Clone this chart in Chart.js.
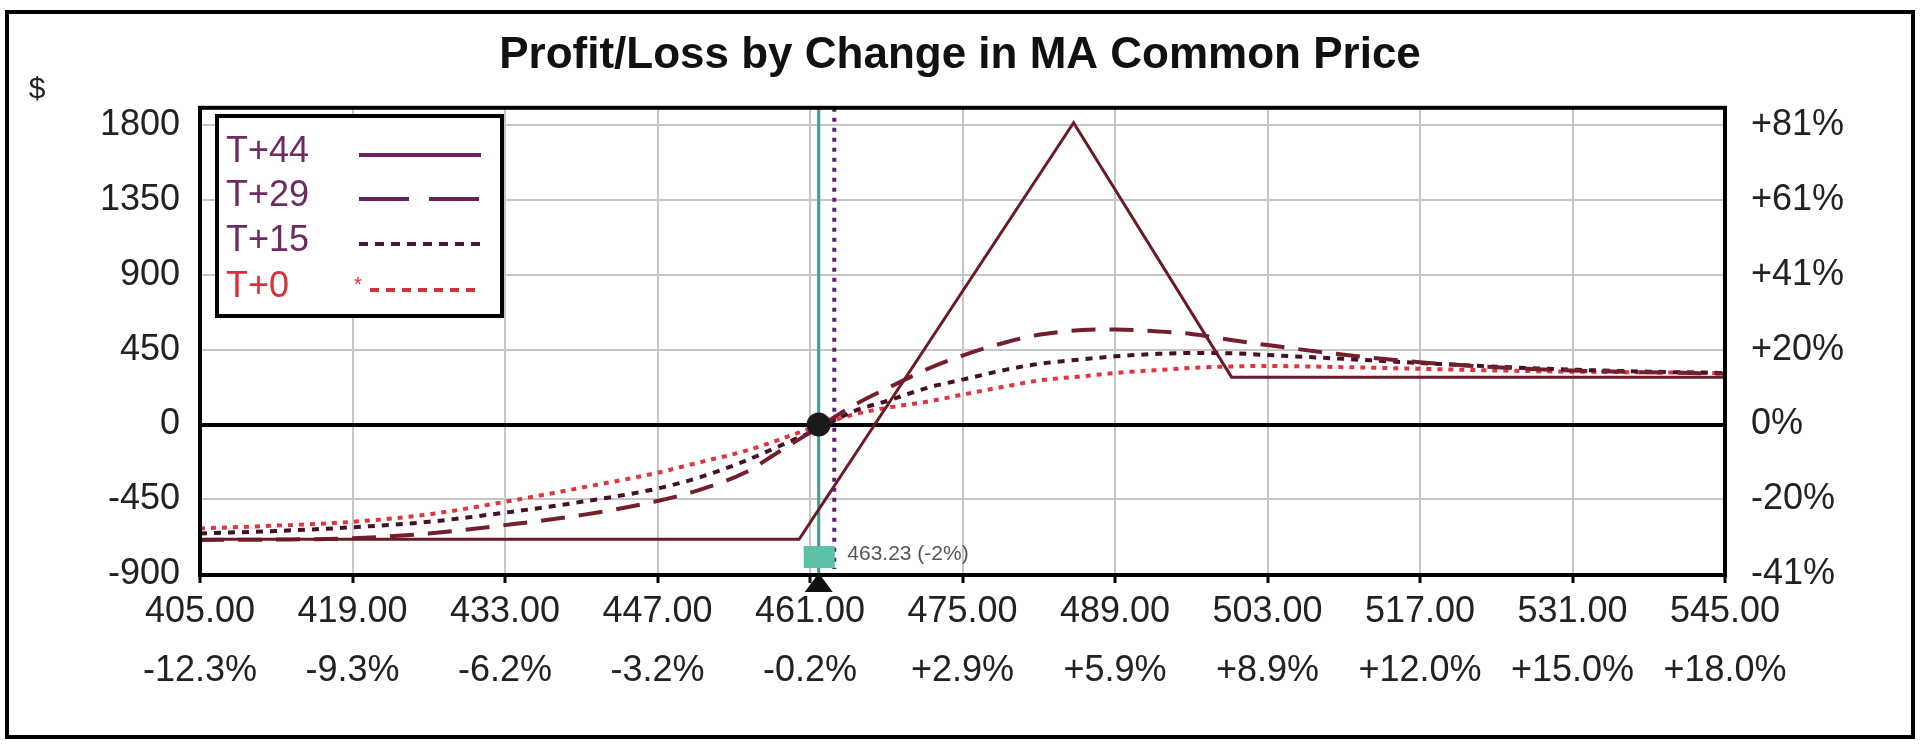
<!DOCTYPE html>
<html lang="en">
<head>
<meta charset="UTF-8" />
<title>Profit/Loss by Change in MA Common Price</title>
<style>
  body { margin: 0; background: #fff; }
  .chartBox { width: 1920px; height: 746px; position: relative; }
</style>
</head>
<body>
<div class="chartBox"><canvas id="plChart"></canvas></div>

<script src="https://cdn.jsdelivr.net/npm/chart.js"></script>
<script>
// price points for the smooth (pre-expiry) curves
const prices = [405, 412, 419, 426, 433, 440, 447, 451, 455, 458, 461.8, 465, 468, 472, 475,
                479, 482, 486, 489, 493, 496, 500, 503, 510, 517, 524, 531, 538, 545];
const t29PL = [-694, -692, -684, -655, -605, -545, -460, -390, -290, -170, -15, 115, 215, 340, 415,
               495, 540, 568, 572, 560, 545, 505, 478, 420, 375, 345, 325, 314, 306];
const t15PL = [-655, -640, -618, -585, -530, -465, -385, -315, -220, -135, -25, 80, 140, 225, 270,
               330, 365, 392, 410, 425, 430, 428, 418, 395, 370, 348, 330, 318, 310];
const t0PL = [-625, -608, -585, -540, -465, -380, -290, -225, -160, -95, -5, 60, 100, 140, 180,
              230, 265, 290, 310, 328, 340, 350, 352, 345, 335, 325, 318, 314, 310];

// expiration line is straight segments
const t44Prices = [405, 460, 485.2, 499.7, 545];
const t44PL = [-690, -690, 1815, 285, 285];

const xTickPrices = [405, 419, 433, 447, 461, 475, 489, 503, 517, 531, 545];
const xTickPcts = ["-12.3%", "-9.3%", "-6.2%", "-3.2%", "-0.2%", "+2.9%", "+5.9%",
                   "+8.9%", "+12.0%", "+15.0%", "+18.0%"];
const yTicks = [-900, -450, 0, 450, 900, 1350, 1800];
const yPctLabels = ["-41%", "-20%", "0%", "+20%", "+41%", "+61%", "+81%"];

const seriesNames = ["T+44", "T+29", "T+15", "T+0"];
const currentPrice = 461.8;
const markerPrice = 463.23;
const markerLabel = "463.23 (-2%)";

const FONT = "'Liberation Sans', Arial, Helvetica, sans-serif";

function pts(xs, ys) {
    return xs.map(function (p, i) { return { x: p, y: ys[i] }; });
}

// extra drawing: price markers, legend box, frames
const overlayPlugin = {
    id: "overlay",
    beforeDatasetsDraw(chart) {
        const ctx = chart.ctx;
        const a = chart.chartArea;
        const cx = chart.scales.x.getPixelForValue(currentPrice);
        const mx = chart.scales.x.getPixelForValue(markerPrice);
        ctx.save();
        ctx.strokeStyle = "#3f9e8c";
        ctx.lineWidth = 3;
        ctx.beginPath();
        ctx.moveTo(cx, a.top);
        ctx.lineTo(cx, a.bottom);
        ctx.stroke();

        ctx.strokeStyle = "#5b2274";
        ctx.lineWidth = 4;
        ctx.setLineDash([4, 6]);
        ctx.beginPath();
        ctx.moveTo(mx, a.top);
        ctx.lineTo(mx, a.bottom - 6);
        ctx.stroke();
        ctx.restore();
    },
    afterDraw(chart) {
        const ctx = chart.ctx;
        const a = chart.chartArea;
        const cx = chart.scales.x.getPixelForValue(currentPrice);
        const mx = chart.scales.x.getPixelForValue(markerPrice);
        const y0 = chart.scales.y.getPixelForValue(0);
        ctx.save();

        // plot frame
        ctx.strokeStyle = "#000";
        ctx.lineWidth = 4;
        ctx.strokeRect(a.left, a.top, a.right - a.left, a.bottom - a.top);

        // outer frame
        ctx.lineWidth = 4;
        ctx.strokeRect(7, 12, 1906, 725);

        // teal box, triangle, breakeven dot
        ctx.fillStyle = "#5cc0a6";
        ctx.fillRect(cx - 15, a.bottom - 29, 31, 22);
        ctx.fillStyle = "#111";
        ctx.beginPath();
        ctx.moveTo(cx, a.bottom - 2);
        ctx.lineTo(cx - 14, a.bottom + 17);
        ctx.lineTo(cx + 14, a.bottom + 17);
        ctx.closePath();
        ctx.fill();
        ctx.fillStyle = "#1a1a1a";
        ctx.beginPath();
        ctx.arc(cx, y0, 12, 0, Math.PI * 2);
        ctx.fill();

        ctx.fillStyle = "#555";
        ctx.font = "21px " + FONT;
        ctx.textAlign = "left";
        ctx.textBaseline = "middle";
        ctx.fillText(markerLabel, mx + 13, a.bottom - 21);

        // $ sign
        ctx.fillStyle = "#222";
        ctx.font = "30px " + FONT;
        ctx.textAlign = "center";
        ctx.fillText("$", 37, 90);

        // legend box
        ctx.fillStyle = "#fff";
        ctx.fillRect(217, 116, 285, 200);
        ctx.strokeStyle = "#000";
        ctx.lineWidth = 4;
        ctx.strokeRect(217, 116, 285, 200);
        const rows = [152, 196, 241, 287];
        const textCols = ["#6e2a62", "#6e2a62", "#6e2a62", "#d83038"];
        const lineCols = ["#6a1f5c", "#6a1f5c", "#4a1545", "#d83038"];
        const dashes = [[], [50, 20], [9, 7], [9, 7]];
        ctx.font = "36px " + FONT;
        ctx.textAlign = "left";
        for (let i = 0; i < seriesNames.length; i++) {
            ctx.fillStyle = textCols[i];
            ctx.fillText(seriesNames[i], 226, rows[i]);
            ctx.strokeStyle = lineCols[i];
            ctx.lineWidth = 4;
            ctx.setLineDash(dashes[i]);
            ctx.beginPath();
            ctx.moveTo(i === 3 ? 370 : 359, rows[i] + 3);
            ctx.lineTo(481, rows[i] + 3);
            ctx.stroke();
        }
        ctx.setLineDash([]);
        ctx.fillStyle = "#d83038";
        ctx.font = "20px " + FONT;
        ctx.fillText("*", 354, rows[3] - 2);
        ctx.restore();
    }
};

const data = {
    datasets: [
        {
            label: seriesNames[0],
            data: pts(t44Prices, t44PL),
            borderColor: "#6b1a26",
            borderWidth: 3,
            tension: 0,
        },
        {
            label: seriesNames[1],
            data: pts(prices, t29PL),
            borderColor: "#73202c",
            borderWidth: 4,
            borderDash: [24, 14],
            cubicInterpolationMode: "monotone",
        },
        {
            label: seriesNames[2],
            data: pts(prices, t15PL),
            borderColor: "#45112a",
            borderWidth: 4,
            borderDash: [7, 7],
            cubicInterpolationMode: "monotone",
        },
        {
            label: seriesNames[3],
            data: pts(prices, t0PL),
            borderColor: "#e0343e",
            borderWidth: 4,
            borderDash: [5, 6],
            cubicInterpolationMode: "monotone",
        },
    ],
};

const config = {
    type: "line",
    data: data,
    options: {
        responsive: true,
        maintainAspectRatio: false,
        animation: false,
        layout: { padding: 0 },
        elements: { point: { radius: 0 } },
        plugins: {
            legend: { display: false },
            tooltip: { enabled: false },
            title: {
                display: true,
                text: "Profit/Loss by Change in MA Common Price",
                color: "#111",
                font: { family: FONT, size: 44, weight: "bold" },
                padding: { top: 29, bottom: 26 },
            },
        },
        scales: {
            x: {
                type: "linear",
                min: 405,
                max: 545,
                afterBuildTicks: function (scale) {
                    scale.ticks = xTickPrices.map(function (v) { return { value: v }; });
                },
                afterFit: function (scale) { scale.height = 171; },
                border: { display: false },
                grid: { color: "#c6c6c6", lineWidth: 2, tickLength: 8, tickColor: "#000", tickWidth: 3 },
                ticks: {
                    maxRotation: 0,
                    autoSkip: false,
                    padding: 0,
                    color: "#222",
                    font: { family: FONT, size: 36, lineHeight: "59px" },
                    callback: function (v, i) { return [v.toFixed(2), xTickPcts[i]]; },
                },
            },
            y: {
                position: "left",
                min: -905,
                max: 1905,
                afterBuildTicks: function (scale) {
                    scale.ticks = yTicks.map(function (v) { return { value: v }; });
                },
                afterFit: function (scale) { scale.width = 200; },
                border: { display: false },
                grid: {
                    drawTicks: false,
                    color: function (c) { return c.tick && c.tick.value === 0 ? "#000" : "#c6c6c6"; },
                    lineWidth: function (c) { return c.tick && c.tick.value === 0 ? 4 : 2; },
                },
                ticks: {
                    padding: 20,
                    color: "#222",
                    font: { family: FONT, size: 36 },
                    callback: function (v) { return String(v); },
                },
            },
            yPct: {
                position: "right",
                min: -905,
                max: 1905,
                afterBuildTicks: function (scale) {
                    scale.ticks = yTicks.map(function (v) { return { value: v }; });
                },
                afterFit: function (scale) { scale.width = 195; },
                border: { display: false },
                grid: { display: false, drawTicks: false },
                ticks: {
                    padding: 26,
                    color: "#222",
                    font: { family: FONT, size: 36 },
                    callback: function (v, i) { return yPctLabels[i]; },
                },
            },
        },
    },
    plugins: [overlayPlugin],
};

const plChart = new Chart(document.getElementById("plChart"), config);
</script>
</body>
</html>
